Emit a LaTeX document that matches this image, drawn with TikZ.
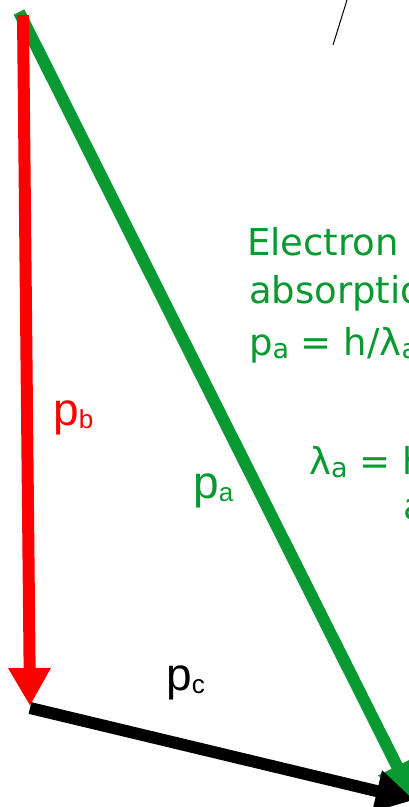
\documentclass[tikz,border=0pt]{standalone}
\usepackage{fontspec}
\setmainfont{Liberation Sans}
\newfontfamily\dvs{DejaVu Sans}
\usetikzlibrary{arrows.meta}
\definecolor{vgreen}{RGB}{8,154,48}
\newcommand\sbx[1]{\raisebox{-3pt}{\fontsize{26}{26}\selectfont #1}}
\newcommand\sbt[1]{\raisebox{-3pt}{\fontsize{27}{27}\selectfont #1}}
\tikzset{
  vec/.style={line width=12pt, -{Triangle[length=38pt,width=40pt]}},
  biglbl/.style={inner sep=0pt, anchor=base west, font=\fontsize{46}{46}\selectfont},
  txt/.style={inner sep=0pt, anchor=base west, text=vgreen, font=\dvs\fontsize{37}{37}\selectfont},
}
\begin{document}
\begin{tikzpicture}[x=1pt,y=-1pt]
\clip (0,0) rectangle (409,807);
\fill[white] (0,0) rectangle (409,807);
% coordinates
\coordinate (Gtop) at (19,12);
\coordinate (Rtop) at (23,15);
\coordinate (B) at (30,706);
\coordinate (Bs) at (30,708);
\coordinate (T) at (414,800);
\coordinate (L1) at (333,45);
\coordinate (L2) at (347,0);
% vectors
\draw[vec, vgreen] (Gtop) -- (T);
\draw[vec, red] (Rtop) -- (B);
\draw[vec, black] (Bs) -- (T);
\draw[line width=1pt] (L1) -- (L2);
% labels
\node[biglbl, text=red] (pb) at (53,425) {p\sbx{b}};
\node[biglbl, text=vgreen] (pa) at (193,498) {p\sbx{a}};
\node[biglbl, text=black] (pc) at (166,690) {p\sbx{c}};
% text block
\node[txt] (t1) at (247,255) {Electron};
\node[txt] (t2) at (249,303) {absorption};
\node[txt] (t3) at (249,355) {p\sbt{a} = h/λ\sbt{a}};
\node[txt] (t4) at (309,474) {λ\sbt{a} = h};
\node[txt] (t5) at (403,519) {a};
\end{tikzpicture}
\end{document}
